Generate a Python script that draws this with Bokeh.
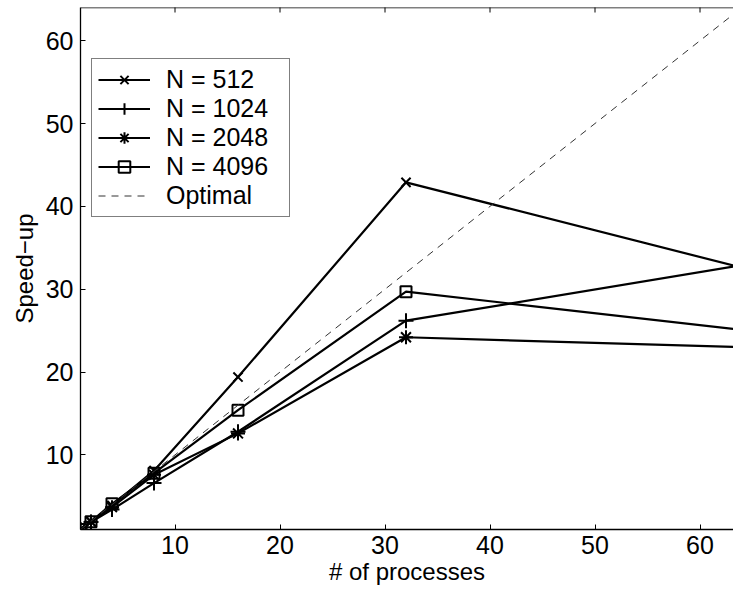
import math
from bokeh.plotting import figure
from bokeh.models import Range1d, FixedTicker, Legend, LegendItem, Span
from bokeh.embed import file_html
from bokeh.resources import INLINE

procs = [1, 2, 4, 8, 16, 32, 64]
n512 = [1, 1.95, 3.9, 8.1, 19.4, 42.9, 32.6]
n1024 = [1, 1.9, 3.4, 6.6, 12.8, 26.2, 32.9]
n2048 = [1, 1.95, 3.7, 7.6, 12.6, 24.2, 23.0]
n4096 = [1, 1.95, 4.1, 7.8, 15.4, 29.7, 25.1]
optimal_x = [1, 64]
optimal_y = [1, 64]
series_labels = ["N = 512", "N = 1024", "N = 2048", "N = 4096"]
ticks = [10, 20, 30, 40, 50, 60]

FONT = "Liberation Sans"
TICK_FS = "25px"
LABEL_FS = "24px"

p = figure(width=733, height=590, output_backend="svg", toolbar_location=None,
           x_range=Range1d(1, 63.19), y_range=Range1d(1, 64),
           min_border_left=80, min_border_right=0, min_border_top=7, min_border_bottom=61)
p.outline_line_color = None
p.grid.visible = False
p.background_fill_color = "white"

for ax in (p.xaxis[0], p.yaxis[0]):
    ax.ticker = FixedTicker(ticks=ticks)
    ax.major_tick_in = 5
    ax.major_tick_out = 0
    ax.minor_tick_line_color = None
    ax.axis_line_color = "black"
    ax.axis_line_width = 1.3
    ax.major_tick_line_color = "black"
    ax.major_label_text_font = FONT
    ax.major_label_text_font_size = TICK_FS
    ax.major_label_text_color = "black"
    ax.axis_label_text_font = FONT
    ax.axis_label_text_font_size = LABEL_FS
    ax.axis_label_text_font_style = "normal"
    ax.axis_label_text_color = "black"

p.xaxis.axis_label = "# of processes"
p.yaxis.axis_label = "Speed\u2212up"
p.xaxis.major_label_standoff = 6
p.xaxis.axis_label_standoff = 1
p.yaxis.major_label_standoff = 7
p.yaxis.axis_label_standoff = 5

# top box edge with inward ticks (MATLAB "box on")
p.add_layout(Span(location=64, dimension="width", line_color="black", line_width=1.3))
p.scatter(ticks, [64] * len(ticks), marker="dash", angle=math.pi / 2, size=10,
          line_color="black", line_width=1)

markers = ["x", "cross", "asterisk", "square"]
sizes = [13, 15, 14, 11]
items = []
for vals, lab, mk, sz in zip([n512, n1024, n2048, n4096], series_labels, markers, sizes):
    lr = p.line(procs, vals, line_color="black", line_width=2.2)
    sr = p.scatter(procs, vals, marker=mk, size=sz, line_color="black", line_width=2,
                   fill_color=None)
    items.append(LegendItem(label=lab, renderers=[lr, sr]))

opt = p.line(optimal_x, optimal_y, line_color="#333333", line_width=1, line_dash="7 6")
items.append(LegendItem(label="Optimal", renderers=[opt]))

legend = Legend(items=items, location=(11, 312), margin=0, padding=6, spacing=0,
                label_height=29, glyph_height=29, glyph_width=52, label_standoff=16,
                label_width=117,
                label_text_font=FONT, label_text_font_size=TICK_FS, label_text_color="black",
                border_line_color="black", border_line_width=1,
                background_fill_color="white", background_fill_alpha=1)
p.add_layout(legend, "center")

open("out.html", "w").write(file_html(p, INLINE))
